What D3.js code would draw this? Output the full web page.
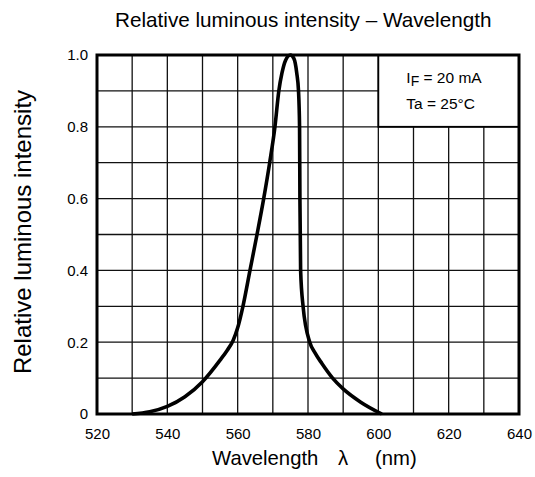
<!DOCTYPE html>
<html lang="en">
<head>
  <meta charset="utf-8" />
  <title>Relative luminous intensity - Wavelength</title>
  <style>
    body { margin: 0; background: #fff; }
    svg text { font-family: "Liberation Sans", Arial, sans-serif; fill: #000; }
  </style>
  <script src="https://d3js.org/d3.v7.min.js"></script>
</head>
<body>
<script>

// curve (wavelength nm, relative intensity)
const wavelength = [530, 535, 540, 545, 550, 555, 557, 558.7, 560, 561.5, 563.5, 565.5, 567.4, 569.1, 570.6, 571.7, 572.6, 573.6, 575,
                    576, 576.8, 577.3, 577.6, 577.7, 577.9, 578.6, 580.5, 582, 584, 587, 590, 595, 601];
const intensity  = [0, 0.006, 0.021, 0.048, 0.09, 0.15, 0.177, 0.205, 0.24, 0.3, 0.4, 0.5, 0.6, 0.7, 0.8, 0.9, 0.95, 0.985, 1.0,
                    0.99, 0.95, 0.9, 0.8, 0.6, 0.4, 0.3, 0.2, 0.17, 0.14, 0.1, 0.07, 0.033, 0];

const xTicks = [520, 540, 560, 580, 600, 620, 640];
const yTicks = [0, 0.2, 0.4, 0.6, 0.8, 1.0];
const yTickLabels = ["0", "0.2", "0.4", "0.6", "0.8", "1.0"];

const W = 535, H = 477;
const margin = {top: 55, right: 16, bottom: 63, left: 97};
const width = W - margin.left - margin.right,
      height = H - margin.top - margin.bottom;

const svg = d3.select("body").append("svg")
    .attr("width", W)
    .attr("height", H);

const g = svg.append("g")
    .attr("transform", `translate(${margin.left},${margin.top})`);

const x = d3.scaleLinear().domain([520, 640]).range([0, width]);
const y = d3.scaleLinear().domain([0, 1]).range([height, 0]);

// grid, every 10 nm and every 0.1
const vLines = d3.range(530, 640, 10);
const hLines = d3.range(1, 10).map(d => d / 10);

g.selectAll("line.v").data(vLines).join("line")
    .attr("class", "v")
    .attr("x1", d => x(d)).attr("x2", d => x(d))
    .attr("y1", y(0)).attr("y2", d => d > 600 ? y(0.8) : y(1))
    .attr("stroke", "#111").attr("stroke-width", 1.3);

g.selectAll("line.h").data(hLines).join("line")
    .attr("class", "h")
    .attr("x1", x(520))
    .attr("x2", d => d > 0.8 ? x(600) : x(640))
    .attr("y1", d => y(d)).attr("y2", d => y(d))
    .attr("stroke", "#111").attr("stroke-width", 1.3);

// condition box (top right corner, no grid inside)
g.append("rect")
    .attr("x", x(600)).attr("y", y(1))
    .attr("width", x(640) - x(600)).attr("height", y(0.8) - y(1))
    .attr("fill", "#fff").attr("stroke", "#000").attr("stroke-width", 1.8);

const cond = g.append("text")
    .attr("x", x(600) + 28).attr("y", y(1) + 28)
    .style("font-size", "15.5px");
cond.append("tspan").text("I");
cond.append("tspan").attr("dy", 3).style("font-size", "14px").text("F");
cond.append("tspan").attr("dy", -3).text(" = 20 mA");

g.append("text")
    .attr("x", x(600) + 28).attr("y", y(1) + 54)
    .style("font-size", "15.5px")
    .text("Ta = 25°C");

// frame
g.append("rect")
    .attr("x", 0).attr("y", 0)
    .attr("width", width).attr("height", height)
    .attr("fill", "none").attr("stroke", "#000").attr("stroke-width", 3);

// the curve
const pts = wavelength.map((w, i) => [w, intensity[i]]);
g.append("path")
    .datum(pts)
    .attr("fill", "none")
    .attr("stroke", "#000")
    .attr("stroke-width", 3.6)
    .attr("stroke-linejoin", "round")
    .attr("d", d3.line().x(d => x(d[0])).y(d => y(d[1])).curve(d3.curveMonotoneX));

// axes (labels only)
const xAxis = g.append("g")
    .attr("transform", `translate(0,${height})`)
    .call(d3.axisBottom(x).tickValues(xTicks).tickSize(0).tickPadding(14).tickFormat(d3.format("d")));
xAxis.select(".domain").remove();
xAxis.selectAll("text").style("font-size", "15px").style("font-family", "Liberation Sans, Arial, sans-serif");

const yAxis = g.append("g")
    .call(d3.axisLeft(y).tickValues(yTicks).tickSize(0).tickPadding(9)
      .tickFormat((d, i) => yTickLabels[i]));
yAxis.select(".domain").remove();
yAxis.selectAll("text").style("font-size", "15px").style("font-family", "Liberation Sans, Arial, sans-serif");

// titles
svg.append("text")
    .attr("x", 115).attr("y", 27)
    .style("font-size", "20.7px")
    .text("Relative luminous intensity – Wavelength");

const xt = svg.append("g").style("font-size", "20.3px");
xt.append("text").attr("x", 212).attr("y", 465).text("Wavelength");
xt.append("text").attr("x", 338).attr("y", 465).text("λ");
xt.append("text").attr("x", 375).attr("y", 465).text("(nm)");

svg.append("text")
    .attr("transform", "translate(31,232) rotate(-90)")
    .attr("text-anchor", "middle")
    .style("font-size", "24px")
    .text("Relative luminous intensity");

</script>
</body>
</html>
